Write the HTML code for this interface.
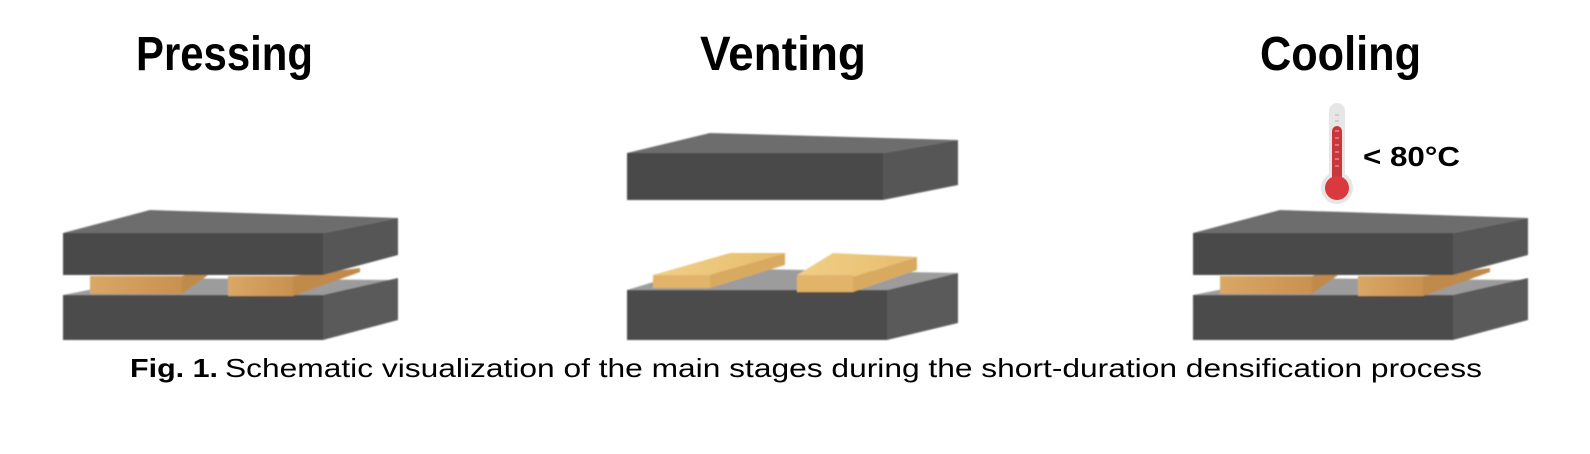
<!DOCTYPE html>
<html><head><meta charset="utf-8"><style>html,body{margin:0;padding:0;background:#fff}svg{display:block}</style></head>
<body>
<svg width="1590" height="454" viewBox="0 0 1590 454" xmlns="http://www.w3.org/2000/svg" font-family="Liberation Sans, sans-serif">
<defs>
<linearGradient id="wood" x1="0" x2="1"><stop offset="0" stop-color="#d9a766"/><stop offset="1" stop-color="#c99050"/></linearGradient>
<linearGradient id="woodL" x1="0" x2="1"><stop offset="0" stop-color="#f0cf86"/><stop offset="1" stop-color="#e6bc6c"/></linearGradient>
<filter id="bl"><feGaussianBlur stdDeviation="0.7"/></filter>
</defs>
<g font-weight="bold" font-size="48" fill="#000">
<text x="136" y="70" textLength="177" lengthAdjust="spacingAndGlyphs">Pressing</text>
<text x="700" y="70" textLength="166" lengthAdjust="spacingAndGlyphs">Venting</text>
<text x="1260" y="70" textLength="161" lengthAdjust="spacingAndGlyphs">Cooling</text>
</g>

<g filter="url(#bl)">
<!-- Pressing -->
<g id="press">
<polygon points="63,295 150,278 398,280 323,295" fill="#9c9c9c"/>
<polygon points="63,295 323,295 323,340 63,340" fill="#4b4b4b"/>
<polygon points="323,295 398,278 398,320 323,340" fill="#5a5a5a"/>
<rect x="90" y="276" width="92" height="18" fill="url(#wood)"/>
<polygon points="182,276 200,270 215,270 182,294" fill="#c08a4c"/>
<rect x="228" y="276" width="65" height="20" fill="url(#wood)"/>
<polygon points="293,276 360,268 360,272 293,296" fill="#c08a4c"/>
<polygon points="63,233 150,210 398,218 323,233" fill="#6d6d6d"/>
<polygon points="63,233 323,233 323,275 63,275" fill="#4a4a4a"/>
<polygon points="323,233 398,218 398,255 323,275" fill="#575757"/>
</g>
<use href="#press" transform="translate(1130,0)"/>

<!-- Venting -->
<polygon points="627,153 710,133 958,140 883,153" fill="#6d6d6d"/>
<polygon points="627,153 883,153 883,200 627,200" fill="#4a4a4a"/>
<polygon points="883,153 958,140 958,185 883,200" fill="#575757"/>

<polygon points="627,290 700,268 958,273 887,290" fill="#9c9c9c"/>
<polygon points="627,290 887,290 887,340 627,340" fill="#4b4b4b"/>
<polygon points="887,290 958,273 958,323 887,340" fill="#5a5a5a"/>
<polygon points="653,275 730,253 785,253 710,275" fill="url(#woodL)"/>
<rect x="653" y="275" width="57" height="13" fill="#e2b46a"/>
<polygon points="710,275 785,253 785,265 710,288" fill="#d8aa60"/>
<polygon points="797,275 833,253 917,257 853,277" fill="url(#woodL)"/>
<rect x="797" y="275" width="56" height="17" fill="#e2b46a"/>
<polygon points="853,277 917,257 917,270 853,292" fill="#d8aa60"/>
</g>

<!-- Thermometer -->
<rect x="1329" y="103" width="16" height="80" rx="8" fill="#e6e6e6"/>
<circle cx="1337" cy="188" r="16" fill="#e6e6e6"/>
<rect x="1332" y="126" width="10" height="60" rx="5" fill="#c9373b"/>
<circle cx="1337" cy="188" r="12" fill="#d83a3e"/>
<g stroke="#bbb" stroke-width="1.2"><line x1="1335" y1="115" x2="1339" y2="115"/><line x1="1335" y1="121" x2="1339" y2="121"/></g>
<g stroke="#e9a0a0" stroke-width="1.2"><line x1="1335" y1="131" x2="1339" y2="131"/><line x1="1335" y1="138" x2="1339" y2="138"/><line x1="1335" y1="145" x2="1339" y2="145"/><line x1="1335" y1="152" x2="1339" y2="152"/><line x1="1335" y1="159" x2="1339" y2="159"/><line x1="1335" y1="166" x2="1339" y2="166"/></g>
<text x="1363" y="166" font-size="28" font-weight="bold" textLength="97" lengthAdjust="spacingAndGlyphs">&lt; 80°C</text>

<text y="377" font-size="26"><tspan x="130" font-weight="bold" textLength="88" lengthAdjust="spacingAndGlyphs">Fig. 1.</tspan><tspan x="225" textLength="1257" lengthAdjust="spacingAndGlyphs">Schematic visualization of the main stages during the short-duration densification process</tspan></text>
</svg>
</body></html>
